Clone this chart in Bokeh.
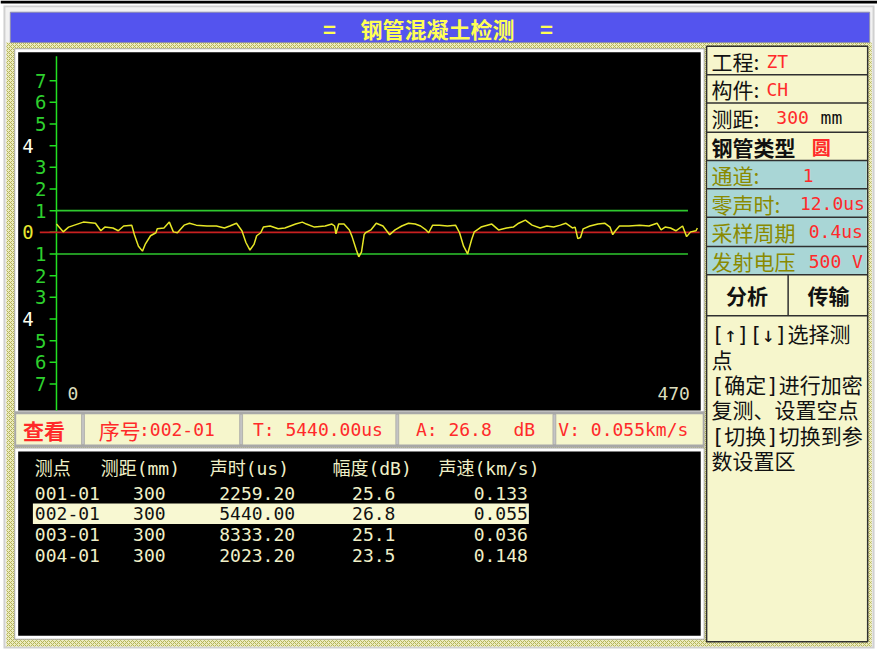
from bokeh.plotting import figure
from bokeh.models import Range1d
from bokeh.core.properties import value
from bokeh.embed import file_html
from bokeh.resources import INLINE

# ---------------- data ----------------
TITLE = "钢管混凝土检测"

wave_sample = [0, 5, 9, 20, 29, 33, 36, 42, 46, 50, 56, 58, 61, 64, 66, 70, 74, 75, 80, 84,
               87, 90, 95, 99, 104, 112, 119, 125, 129, 134, 138, 141, 144, 147, 149, 152, 154,
               159, 165, 170, 178, 183, 186, 192, 200, 205, 207, 208, 210, 214, 218, 220, 223,
               225, 227, 229, 230, 234, 238, 243, 248, 252, 257, 262, 267, 271, 275, 277, 280,
               285, 291, 297, 300, 303, 306, 309, 311, 316, 324, 329, 335, 340, 344, 349, 354,
               360, 365, 370, 375, 379, 384, 386, 388, 390, 392, 397, 403, 408, 412, 414, 416,
               419, 426, 434, 441, 447, 450, 453, 457, 461, 466, 469, 472, 476, 477]
wave_amp = [0.38, 0.02, 0.24, 0.47, 0.42, 0.07, 0.24, 0.20, 0.07, 0.29, 0.33, -0.11, -0.64,
            -0.87, -0.56, -0.16, -0.02, 0.16, 0.20, 0.47, 0.02, -0.02, 0.33, 0.42, 0.33, 0.29,
            0.29, 0.20, 0.29, 0.42, 0.07, -0.47, -0.82, -0.56, -0.16, -0.02, 0.24, 0.29, 0.16,
            0.20, 0.38, 0.47, 0.38, 0.24, 0.29, 0.38, 0.29, -0.07, 0.38, 0.38, 0.11, -0.20,
            -0.78, -1.13, -0.91, -0.11, -0.02, 0.11, 0.42, 0.29, -0.11, 0.11, 0.29, 0.42, 0.38,
            0.29, 0.11, -0.02, 0.33, 0.33, 0.29, 0.33, -0.02, -0.64, -1.00, -0.33, 0.02, 0.24,
            0.38, 0.11, 0.20, 0.24, 0.42, 0.56, 0.33, 0.20, 0.29, 0.24, 0.33, 0.42, 0.20, 0.24,
            -0.29, -0.24, 0.16, 0.29, 0.38, 0.42, 0.24, -0.11, 0.07, 0.29, 0.29, 0.33, 0.29,
            0.42, 0.11, 0.24, 0.20, 0.07, 0.29, -0.20, 0.02, 0.07, 0.20]

amp_ticks = [7, 6, 5, 4, 3, 2, 1, 0, -1, -2, -3, -4, -5, -6, -7]
amp_tick_labels = ["7", "6", "5", "4", "3", "2", "1", "0", "1", "2", "3", "4", "5", "6", "7"]
limit_levels = [1, -1]
sample_start, sample_end = 0, 470

table_header = ["测点", "测距(mm)", "声时(us)", "幅度(dB)", "声速(km/s)"]
point_ids = ["001-01", "002-01", "003-01", "004-01"]
distances = ["300", "300", "300", "300"]
times_us = ["2259.20", "5440.00", "8333.20", "2023.20"]
amps_db = ["25.6", "26.8", "25.1", "23.5"]
speeds = ["0.133", "0.055", "0.036", "0.148"]
selected = 1

project, member, distance_mm, tube_type = "ZT", "CH", "300", "圆"
channel, zero_time, sample_period, voltage = "1", "12.0us", "0.4us", "500 V"
help_lines = ["[↑][↓]选择测", "点", "[确定]进行加密", "复测、设置空点", "[切换]切换到参", "数设置区"]

# ---------------- styling ----------------
MONO = "DejaVu Sans Mono, Noto Sans CJK SC"
CJK = "Noto Sans CJK SC"
RED = "#ff2a2a"
OLIVE = "#8a8a00"
BEIGE = "#f0f0c8"
PANEL = "#f6f6cc"
TEAL = "#a9d6d6"
NB = "\u00a0"

p = figure(width=877, height=650, x_range=Range1d(0, 893), y_range=Range1d(666, 0),
           output_backend="svg", toolbar_location=None, min_border=0)
p.axis.visible = False
p.grid.visible = False
p.outline_line_color = None
p.background_fill_color = "white"
p.border_fill_color = "white"

# waveform scales: sample -> x pixel, amplitude -> y pixel
KX, X0 = (700 - 57) / 470.0, 57.0
KY, Y0 = 22.2, 237.5
p.extra_x_ranges = {"wave": Range1d((0 - X0) / KX, (893 - X0) / KX)}
p.extra_y_ranges = {"amp": Range1d((Y0 - 666) / KY, (Y0 - 0) / KY)}


def box(l, r, t, b, fill, line=None, lw=1, **kw):
    p.quad(left=[l], right=[r], top=[t], bottom=[b], fill_color=fill,
           line_color=line, line_width=lw, **kw)


def txt(x, y, s, color, size, font=MONO, align="left", bold=False):
    p.text(x=[x], y=[y], text=[s], text_color=color, text_font_size=f"{size}px",
           text_font=value(font), text_align=align, text_baseline="middle",
           text_font_style="bold" if bold else "normal")


# ---------------- window chrome ----------------
p.segment(x0=[0], x1=[893], y0=[1.5], y1=[1.5], line_color="#000000", line_width=3)
box(3, 890, 5, 664, "#d0d0d0")
box(5, 888, 7, 662, "#f2f2f2")
box(6, 887, 43, 662, "#ecebbd", hatch_pattern="diagonal_cross", hatch_color="#b4b45a",
    hatch_scale=4, hatch_weight=1)
box(10, 885, 12, 43, "#5454ee", "#8c8cb0", 1)
txt(335, 28, "=", "#ffff55", 22, CJK, "center", True)
txt(445, 28, TITLE, "#ffff55", 22, CJK, "center", True)
txt(556, 28, "=", "#ffff55", 22, CJK, "center", True)

# waveform panel
box(14, 717, 49, 422, "#a8a8a8")
box(15, 716, 50, 421, "#ffffff")
box(18, 713, 53, 420, "#000000")

# status bar
box(14, 717, 421, 458, "#a8a8a8")
box(16, 715, 424, 455, PANEL)
for xs in [84, 245, 404, 564]:
    box(xs - 1.5, xs + 1.5, 424, 455, "#c4c4c4", "#9a9a9a", 0.6)

# table panel
box(14, 717, 458, 655, "#a8a8a8")
box(15, 716, 459, 654, "#ffffff")
box(18, 713, 462, 651, "#000000")

# right panel
box(719, 883, 47, 657, PANEL, "#303030", 1.5)
box(720, 882, 164, 281, TEAL)
for yy in [76, 105, 135, 164, 193, 222, 252, 281, 323]:
    p.segment(x0=[719], x1=[883], y0=[yy], y1=[yy], line_color="#303030", line_width=1.5)
p.segment(x0=[802], x1=[802], y0=[281], y1=[323], line_color="#303030", line_width=1.5)

# ---------------- waveform ----------------
p.segment(x0=[0], x1=[0], y0=[57], y1=[420], x_range_name="wave",
          line_color="#22e022", line_width=1.5)
p.segment(x0=[50] * len(amp_ticks), x1=[57] * len(amp_ticks), y0=amp_ticks, y1=amp_ticks,
          y_range_name="amp", line_color="#22e022", line_width=1.5)
tick_colors = ["#fffff0" if abs(v) == 4 else ("#e8e830" if v == 0 else "#2ed02e") for v in amp_ticks]
tick_x = [28 if v in (0, 4, -4) else 41 for v in amp_ticks]
p.text(x=tick_x, y=amp_ticks, text=amp_tick_labels, y_range_name="amp",
       text_color=tick_colors, text_font_size="19px", text_font=value("DejaVu Sans Mono"),
       text_align="center", text_baseline="middle")
p.segment(x0=[sample_start] * 2, x1=[sample_end] * 2, y0=limit_levels, y1=limit_levels,
          x_range_name="wave", y_range_name="amp", line_color="#2ec82e", line_width=1.6)
p.segment(x0=[40], x1=[712], y0=[0], y1=[0], y_range_name="amp",
          line_color="#c82020", line_width=1.8)
p.line(x=wave_sample, y=wave_amp, x_range_name="wave", y_range_name="amp",
       line_color="#e6e626", line_width=1.5)
p.text(x=[sample_start], y=[403], text=[str(sample_start)], x_range_name="wave",
       x_offset=11, text_color="#dcdcbc", text_font_size="18px",
       text_font=value("DejaVu Sans Mono"), text_align="left", text_baseline="middle")
p.text(x=[sample_end], y=[403], text=[str(sample_end)], x_range_name="wave",
       x_offset=2, text_color="#dcdcbc", text_font_size="18px",
       text_font=value("DejaVu Sans Mono"), text_align="right", text_baseline="middle")

# ---------------- status bar texts ----------------
txt(23, 440, "查看", RED, 21, CJK, bold=True)
txt(100, 440, "序号", RED, 21, CJK)
txt(141, 440, ":" + point_ids[selected], RED, 18)
txt(257, 440, "T: " + times_us[selected] + "us", RED, 18)
txt(423, 440, "A: " + amps_db[selected] + NB + NB + "dB", RED, 18)
txt(568, 440, "V: " + speeds[selected] + "km/s", RED, 18)

# ---------------- table ----------------
hx = [35, 102, 213, 338, 446]
p.text(x=hx, y=[480] * 5, text=table_header, text_color=BEIGE, text_font_size="18px",
       text_font=value(MONO), text_align="left", text_baseline="middle")
row_y = [505, 526, 547, 569]
box(33, 538, row_y[selected] - 10.5, row_y[selected] + 10.5, "#f8f8d2")
row_colors = ["#111111" if i == selected else BEIGE for i in range(len(point_ids))]
for xs, col, al in [(35, point_ids, "left"), (135, distances, "left"), (300, times_us, "right"),
                    (358, amps_db, "left"), (537, speeds, "right")]:
    p.text(x=[xs] * len(col), y=row_y, text=col, text_color=row_colors, text_font_size="18px",
           text_font=value("DejaVu Sans Mono"), text_align=al, text_baseline="middle")

# ---------------- right panel texts ----------------
txt(724, 62, "工程:", "#111111", 21, CJK)
txt(780, 62, project, RED, 18)
txt(724, 91, "构件:", "#111111", 21, CJK)
txt(780, 91, member, RED, 18)
txt(724, 120, "测距:", "#111111", 21, CJK)
txt(790, 120, distance_mm, RED, 18)
txt(835, 120, "mm", "#111111", 18)
txt(724, 150, "钢管类型", "#111111", 21, CJK, bold=True)
txt(826, 150, tube_type, RED, 19, CJK, bold=True)
txt(724, 179, "通道:", OLIVE, 21, CJK)
txt(817, 179, channel, RED, 18)
txt(724, 208, "零声时:", OLIVE, 21, CJK)
txt(814, 208, zero_time, RED, 18)
txt(724, 237, "采样周期", OLIVE, 21, CJK)
txt(823, 237, sample_period, RED, 18)
txt(724, 267, "发射电压", OLIVE, 21, CJK)
txt(823, 267, voltage, RED, 18)
txt(760, 302, "分析", "#111111", 21, CJK, "center", True)
txt(843, 302, "传输", "#111111", 21, CJK, "center", True)
help_y = [343, 369, 395, 421, 447, 473]
p.text(x=[724] * len(help_lines), y=help_y, text=help_lines, text_color="#111111",
       text_font_size="21px", text_font=value(MONO), text_align="left", text_baseline="middle")

open("out.html", "w").write(file_html(p, INLINE))
